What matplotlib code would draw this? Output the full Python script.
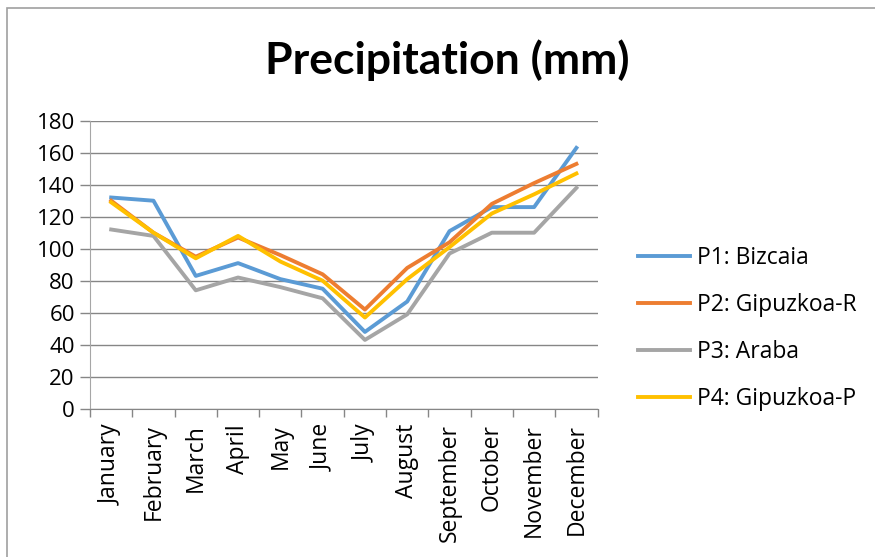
import matplotlib.pyplot as plt
from matplotlib.patches import Rectangle
from matplotlib.ticker import FixedLocator

months = ['January', 'February', 'March', 'April', 'May', 'June', 'July',
          'August', 'September', 'October', 'November', 'December']

p1_bizcaia = [132, 130, 83, 91, 81, 75, 48, 67, 111, 126, 126, 163]
p2_gipuzkoa_r = [130, 110, 95, 107, 96, 84, 62, 88, 104, 128, 141, 153]
p3_araba = [112, 108, 74, 82, 76, 69, 43, 59, 97, 110, 110, 138]
p4_gipuzkoa_p = [129, 110, 94, 108, 92, 80, 57, 81, 101, 122, 134, 147]

series = [
    ('P1: Bizcaia', p1_bizcaia, '#5B9BD5'),
    ('P2: Gipuzkoa-R', p2_gipuzkoa_r, '#ED7D31'),
    ('P3: Araba', p3_araba, '#A5A5A5'),
    ('P4: Gipuzkoa-P', p4_gipuzkoa_p, '#FFC000'),
]

plt.rcParams['font.family'] = ['Open Sans', 'DejaVu Sans']

fig = plt.figure(figsize=(8.75, 5.57), dpi=100)
ax = fig.add_axes([0.1029, 0.2662, 0.580, 0.5171])

x = list(range(len(months)))
for label, vals, color in series:
    ax.plot(x, vals, color=color, lw=2.8, label=label)

ax.set_xlim(-0.5, len(months) - 0.5)
ax.set_ylim(0, 180)
ax.set_yticks(range(0, 181, 20))
ax.yaxis.grid(True, color='#868686', lw=1)
ax.set_axisbelow(True)

ax.set_xticks(x)
ax.set_xticklabels(months, rotation=90, fontsize=16.5)
ax.tick_params(axis='x', which='major', length=0, pad=11)
ax.xaxis.set_minor_locator(FixedLocator([i - 0.5 for i in range(len(months) + 1)]))
ax.tick_params(axis='x', which='minor', length=6, color='#868686', width=1)
ax.tick_params(axis='y', length=7, color='#868686', width=1, labelsize=16, pad=4)

for side in ['top', 'right']:
    ax.spines[side].set_visible(False)
ax.spines['bottom'].set_color('#868686')
ax.spines['left'].set_color('#A6A6A6')

# chart title centred on the whole figure
fig.text(0.511, 0.892, 'Precipitation (mm)', fontsize=32, fontweight='bold',
         family=['Lato', 'DejaVu Sans'], ha='center', va='center')

leg = ax.legend(loc='center left', bbox_to_anchor=(1.039, 0.279), frameon=False,
                fontsize=16.5, handlelength=2.27, handletextpad=0.3,
                labelspacing=1.0)

# outer chart border
fig.patches.append(Rectangle((7 / 875, -0.1), 1.2, 1 - 8 / 557 + 0.1,
                             transform=fig.transFigure, fill=False,
                             edgecolor='#A0A0A0', lw=1.2))

fig.savefig('out.png', dpi=100)
